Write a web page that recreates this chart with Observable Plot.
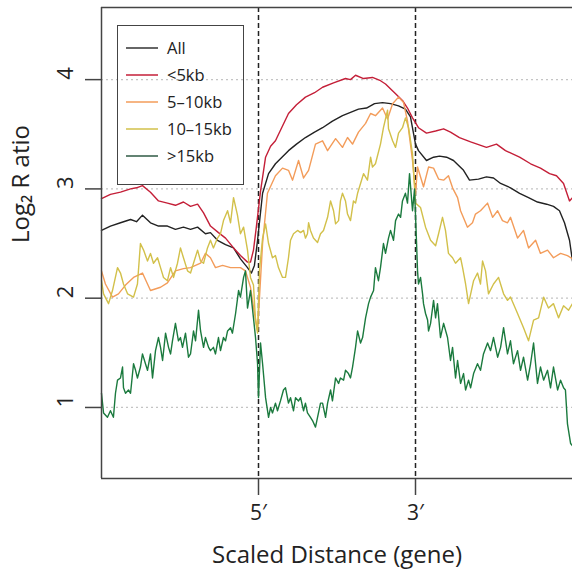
<!DOCTYPE html>
<html>
<head>
<meta charset="utf-8">
<script src="https://cdn.jsdelivr.net/npm/d3@7"></script>
<script src="https://cdn.jsdelivr.net/npm/@observablehq/plot@0.6"></script>
<style>
  body { margin: 0; background: #fff; }
  #wrap { position: relative; width: 572px; height: 579px; font-family: "Open Sans", sans-serif; }
  #legend { position: absolute; left: 117px; top: 25px; width: 125px; height: 150px; border: 1.5px solid #444; box-sizing: content-box; padding-top: 8px; }
  .row { height: 27px; display: flex; align-items: center; font-size: 16.5px; color: #222; }
  .row svg { margin-left: 8px; margin-right: 9px; }
</style>
</head>
<body>
<div id="wrap"><div id="legend"></div></div>
<script>
// x: scaled distance bins (0–100 upstream, 100–200 gene body, 200–300 downstream)
const xTicks = [100, 200];
const xTickLabels = ["5′", "3′"];
const yTicks = [1, 2, 3, 4];
const seriesNames = ["All", "<5kb", "5–10kb", "10–15kb", ">15kb"];
const seriesColors = ["#222222", "#c41f38", "#f39c5a", "#d2c04a", "#1b7a3e"];
const legendColors = ["#333333", "#c41f38", "#f39c5a", "#d2c04a", "#2f5a44"];

const allGenes = [[0,2.62],[5.7,2.66],[12.1,2.69],[18.5,2.72],[22.3,2.7],[26.1,2.76],[31.2,2.69],[36.3,2.66],[42,2.66],[47.1,2.63],[52.2,2.65],[56.7,2.63],[61.2,2.65],[66.2,2.59],[69.4,2.6],[73.9,2.53],[79,2.49],[84.1,2.46],[88.5,2.36],[93,2.28],[95.5,2.23],[97.4,2.3],[99.4,2.53],[102.6,2.96],[106.4,3.14],[110.8,3.23],[119.1,3.35],[124.2,3.41],[129.9,3.47],[135.7,3.52],[140.8,3.56],[147.1,3.62],[153.5,3.67],[158.6,3.7],[163.7,3.73],[168.8,3.74],[173.9,3.78],[179,3.79],[184.1,3.78],[189.2,3.76],[193.6,3.73],[196.8,3.66],[200,3.41],[201.9,3.35],[207,3.26],[211.5,3.29],[215.3,3.3],[219.8,3.29],[224.2,3.26],[230.6,3.17],[234.4,3.08],[240.1,3.09],[245.2,3.11],[249.7,3.1],[254.2,3.05],[260.5,3.01],[266.3,2.96],[272,2.92],[277.7,2.88],[283.5,2.86],[287.9,2.84],[291.7,2.8],[294.9,2.69],[298.1,2.53],[300,2.34]];

const lt5kb = [[0,2.91],[5.7,2.95],[12.1,2.97],[18.5,3.0],[22.3,3.01],[26.1,3.03],[31.2,2.97],[36.3,2.89],[42,2.87],[47.1,2.85],[52.2,2.88],[56.7,2.84],[61.2,2.86],[65,2.78],[69.4,2.66],[74.5,2.6],[79,2.55],[84.1,2.46],[88.5,2.39],[93,2.33],[94.9,2.33],[96.8,2.44],[98.7,2.66],[101.3,2.98],[104.5,3.29],[107.7,3.39],[110.8,3.44],[119.1,3.69],[124.2,3.77],[129.9,3.84],[135.7,3.88],[140.8,3.93],[147.8,3.97],[155.4,4.01],[158.6,4.0],[161.8,4.04],[166.9,4.01],[172.6,4.02],[177.7,3.99],[180.9,3.96],[187.3,3.87],[191.7,3.81],[194.9,3.74],[198.1,3.65],[201.9,3.56],[207,3.51],[212.8,3.53],[217.9,3.55],[222.3,3.52],[228,3.47],[235.1,3.43],[245.2,3.38],[251.6,3.41],[257.3,3.35],[266.3,3.29],[273.3,3.23],[279.6,3.19],[285.4,3.14],[289.8,3.12],[294.3,3.05],[298.1,2.89],[300,2.92]];

const kb5to10 = [[0,2.25],[2.5,2.13],[7,2.01],[10.8,2.04],[15.3,2.12],[20.4,2.19],[26.1,2.23],[31.2,2.07],[37.6,2.1],[42,2.14],[47.1,2.25],[52.2,2.27],[56.7,2.28],[63.1,2.32],[66.2,2.41],[69.4,2.37],[72.6,2.28],[77.1,2.3],[82.2,2.28],[88.5,2.28],[91.7,2.25],[94.9,2.1],[97,1.9],[99.4,1.7],[100.6,2.0],[102.6,2.5],[105.7,2.96],[110.8,3.12],[115.3,3.19],[119.1,3.17],[121.7,3.08],[125.5,3.26],[128.7,3.1],[131.9,3.17],[136.3,3.41],[140.8,3.44],[144,3.35],[149.1,3.46],[153.5,3.38],[156.7,3.47],[159.9,3.41],[163.7,3.52],[168.2,3.6],[171.4,3.69],[174.5,3.67],[179,3.74],[182.2,3.64],[185.4,3.78],[189.2,3.84],[192.4,3.79],[194.9,3.62],[198.1,3.26],[200,2.95],[201.3,3.2],[205.1,3.02],[208.3,3.2],[211.5,3.19],[214.7,3.09],[217.9,3.08],[221,3.12],[223.6,3.01],[226.8,2.92],[228.7,2.8],[233.1,2.65],[236.3,2.69],[238.2,2.77],[241.4,2.8],[245.9,2.87],[249.1,2.74],[252.3,2.8],[255.4,2.71],[258.6,2.69],[260.5,2.74],[265,2.55],[268.8,2.62],[272,2.46],[276.5,2.53],[279.6,2.41],[284.1,2.44],[287.9,2.37],[292.4,2.41],[296.8,2.39],[300,2.36]];

const kb10to15 = [[0,2.16],[1.3,2.04],[4.5,1.95],[7,2.07],[10.2,2.28],[12.1,2.23],[14,2.13],[16.6,2.04],[20.4,2.01],[22.9,2.13],[24.8,2.5],[26.8,2.44],[29.3,2.34],[31.2,2.41],[33.1,2.32],[35.7,2.37],[37.6,2.28],[39.5,2.19],[42,2.16],[44,2.28],[45.9,2.19],[48.4,2.32],[50.3,2.46],[52.2,2.37],[54.8,2.25],[56.7,2.23],[58.6,2.32],[61.2,2.44],[63.1,2.34],[65,2.32],[67.5,2.46],[69.4,2.53],[71.3,2.46],[73.9,2.55],[75.8,2.59],[77.7,2.71],[80.3,2.8],[82.2,2.69],[84.1,2.92],[86.6,2.76],[88.5,2.59],[90.5,2.65],[93,2.44],[94.9,2.19],[96.8,2.12],[98.1,1.8],[99.4,1.68],[100.6,2.25],[102.6,2.55],[104.5,2.68],[106.4,2.5],[108.9,2.37],[110.8,2.39],[112.7,2.28],[115.3,2.19],[117.2,2.19],[119.1,2.37],[120.4,2.53],[122.3,2.59],[124.9,2.62],[126.8,2.6],[128.7,2.62],[129.9,2.55],[131.2,2.59],[131.9,2.69],[133.1,2.62],[135,2.55],[137.6,2.51],[139.5,2.59],[141.4,2.62],[144,2.74],[145.9,2.89],[147.8,2.8],[149.1,2.68],[151,2.71],[152.2,2.89],[153.5,2.96],[155.4,2.89],[156.7,2.77],[158.6,2.71],[160.5,2.89],[161.8,2.87],[163.1,2.96],[165,3.05],[166.9,3.14],[169.4,3.08],[171.4,3.29],[172.6,3.2],[174.5,3.23],[177.7,3.41],[179.6,3.56],[182.2,3.72],[182.8,3.55],[185.4,3.44],[187.3,3.38],[189.2,3.51],[191.7,3.56],[193.6,3.65],[195.6,3.56],[198.1,3.32],[200,2.87],[203.2,2.83],[206.4,2.65],[209.6,2.53],[212.8,2.48],[214.7,2.59],[217.2,2.74],[219.1,2.62],[221,2.41],[223.6,2.37],[225.5,2.32],[226.8,2.34],[228.7,2.37],[230,2.28],[231.9,2.13],[233.8,1.95],[237,2.16],[239.5,2.23],[241.4,2.13],[242.7,2.34],[244.6,2.25],[246.5,2.04],[249.7,2.13],[252.9,2.19],[256.1,2.04],[258.6,1.98],[260.5,2.01],[265,1.86],[268.8,1.73],[272,1.61],[275.2,1.8],[278.4,1.82],[281.6,2.01],[284.7,1.91],[287.9,1.95],[291.1,1.82],[294.3,1.93],[297.5,1.89],[300,1.95]];

const gt15kb = [[0,1.13],[1.3,0.95],[3.8,0.91],[5.7,0.97],[7.6,0.91],[8.9,1.13],[10.2,1.25],[12.1,1.27],[13.4,1.37],[14,1.18],[15.3,1.13],[17.2,1.16],[18.5,1.13],[20.4,1.4],[21.7,1.34],[22.9,1.27],[24.8,1.37],[26.1,1.49],[28,1.4],[29.3,1.34],[31.2,1.49],[32.5,1.27],[34.4,1.52],[36.3,1.64],[37.6,1.55],[38.9,1.43],[40.8,1.68],[42.7,1.55],[44,1.49],[45.2,1.61],[47.1,1.77],[49,1.61],[50.3,1.64],[51.6,1.55],[53.5,1.68],[55.4,1.46],[56.7,1.49],[58.6,1.7],[59.9,1.61],[61.8,1.89],[63.1,1.7],[65,1.55],[66.2,1.64],[68.2,1.55],[69.4,1.52],[71.3,1.55],[72.6,1.49],[74.5,1.64],[75.8,1.52],[77.7,1.64],[79,1.61],[80.3,1.7],[82.2,1.73],[83.4,1.68],[85.4,1.86],[87.3,2.07],[88.5,2.01],[90.5,2.19],[91.7,2.25],[93,1.91],[94.9,2.07],[96.8,1.82],[98.1,1.64],[99.4,1.4],[100,1.09],[101.3,1.59],[102.6,1.4],[104.5,1.09],[106.4,0.91],[107.7,1.0],[108.9,0.95],[110.8,1.04],[112.1,0.97],[114,1.06],[115.9,1.16],[117.2,1.18],[119.1,1.04],[120.4,1.09],[122.3,0.97],[123.6,1.09],[125.5,1.06],[126.8,1.09],[128.7,0.97],[129.9,1.04],[131.2,0.95],[133.1,0.91],[134.4,0.88],[136.3,0.82],[137.6,0.91],[139.5,1.04],[140.8,1.04],[142.7,0.91],[144,1.04],[145.9,1.16],[147.1,1.06],[149.1,1.27],[151,1.22],[152.2,1.27],[154.2,1.25],[155.4,1.34],[157.3,1.31],[158.6,1.27],[159.9,1.37],[161.8,1.55],[163.1,1.7],[165,1.59],[166.3,1.64],[168.2,1.82],[170.1,1.95],[171.4,2.01],[173.3,2.07],[174.5,2.28],[176.4,2.16],[177.7,2.28],[179.6,2.5],[180.9,2.41],[182.8,2.55],[184.1,2.62],[186,2.53],[187.3,2.71],[189.2,2.77],[190.5,2.74],[191.7,2.89],[193.6,2.96],[194.9,2.87],[196.2,3.14],[198.1,2.8],[199.4,3.0],[200.6,2.53],[201.3,2.25],[201.9,2.13],[203.2,2.19],[204.5,2.04],[205.1,1.95],[206.4,1.86],[207.7,1.8],[208.3,1.7],[209.6,1.77],[211.5,1.98],[212.8,1.82],[214,1.95],[215.9,1.64],[217.9,1.77],[220.4,1.64],[222.3,1.43],[223.6,1.55],[225.5,1.27],[226.8,1.43],[228.7,1.22],[230.6,1.31],[231.9,1.16],[233.8,1.25],[235.1,1.18],[237,1.31],[239.5,1.4],[241.4,1.34],[243.3,1.49],[245.9,1.59],[247.8,1.52],[249.7,1.64],[252.3,1.46],[254.2,1.55],[256.1,1.73],[258.6,1.49],[260.5,1.61],[262.4,1.4],[265,1.52],[266.9,1.34],[268.8,1.46],[271.4,1.25],[273.3,1.4],[275.2,1.59],[277.7,1.22],[279.6,1.37],[281.6,1.25],[284.1,1.34],[286,1.18],[287.9,1.37],[290.5,1.16],[292.4,1.25],[294.3,1.18],[295.5,1.16],[296.8,0.85],[298.8,0.67],[300,0.65]];

const seriesData = [allGenes, lt5kb, kb5to10, kb10to15, gt15kb];
const rows = seriesData.flatMap((arr, i) => arr.map(([x, y]) => ({series: seriesNames[i], x, y})));
const yDomain = [0.35, 4.66];

const font = "'Open Sans', sans-serif";
const chart = Plot.plot({
  width: 572,
  height: 579,
  marginLeft: 101,
  marginRight: 0,
  marginTop: 7,
  marginBottom: 101,
  style: {fontFamily: font, background: "#fff", overflow: "visible"},
  x: {domain: [0, 300]},
  y: {domain: yDomain},
  color: {domain: seriesNames, range: seriesColors},
  marks: [
    Plot.ruleY(yTicks, {stroke: "#c4c4c4", strokeWidth: 1.2, strokeDasharray: "2,3"}),
    Plot.ruleX(xTicks, {stroke: "#222", strokeWidth: 1.5, strokeDasharray: "5,3"}),
    Plot.line(rows, {x: "x", y: "y", z: "series", stroke: "series", strokeWidth: 1.4}),
    Plot.ruleX([0], {stroke: "#444", strokeWidth: 1.5}),
    Plot.ruleY([yDomain[0], yDomain[1]], {stroke: "#444", strokeWidth: 1.5}),
    Plot.axisY({ticks: yTicks, tickSize: 16, tickFormat: () => "", stroke: "#444", strokeWidth: 1.5, label: null}),
    Plot.text(yTicks, {y: d => d, text: d => String(d), frameAnchor: "left", dx: -36, lineAnchor: "middle", rotate: -90, fontSize: 22, fill: "#222"}),
    Plot.axisX({ticks: xTicks, tickSize: 17, tickPadding: 10, tickFormat: d => xTickLabels[xTicks.indexOf(d)], fontSize: 21, stroke: "#444", strokeWidth: 1.5, label: null, fill: "#222"}),
    Plot.text(["Scaled Distance (gene)"], {frameAnchor: "bottom", dy: 77, lineAnchor: "middle", fontSize: 24, fill: "#222"}),
    Plot.text(["Log₂ R atio"], {frameAnchor: "left", dx: -80, lineAnchor: "middle", rotate: -90, fontSize: 24, fill: "#222"})
  ]
});
document.getElementById("wrap").prepend(chart);

const legend = d3.select("#legend");
seriesNames.forEach((name, i) => {
  const row = legend.append("div").attr("class", "row");
  const svg = row.append("svg").attr("width", 32).attr("height", 4);
  svg.append("line").attr("x1", 0).attr("x2", 32).attr("y1", 2).attr("y2", 2)
    .attr("stroke", legendColors[i]).attr("stroke-width", 1.5);
  row.append("span").text(name);
});
</script>
</body>
</html>
